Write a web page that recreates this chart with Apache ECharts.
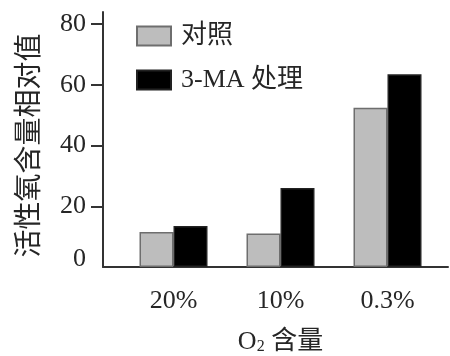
<!DOCTYPE html>
<html>
<head>
<meta charset="utf-8">
<script src="https://cdn.jsdelivr.net/npm/echarts@6/dist/echarts.min.js"></script>
<style>
  html, body { margin: 0; padding: 0; background: #fff; }
  #chart { width: 450px; height: 356px; }
</style>
</head>
<body>
<div id="chart"></div>
<script>
// O2 levels and relative ROS content for the two treatments
const categories = ['20%', '10%', '0.3%'];
const controlValues = [11.5, 11, 52.5];
const maValues = [13.5, 26, 63.5];
const yTickValues = [0, 20, 40, 60, 80];
const seriesNames = ['对照', '3-MA 处理'];

const FONT = 'Times New Roman, Liberation Serif, Noto Sans CJK SC, serif';
const INK = '#262626';

const chart = echarts.init(document.getElementById('chart'));
chart.setOption({
  backgroundColor: '#fff',
  animation: false,
  textStyle: { fontFamily: FONT, color: INK },
  legend: {
    orient: 'vertical',
    left: 136,
    top: 23,
    padding: 0,
    itemWidth: 34,
    itemHeight: 19,
    itemGap: 18,
    icon: 'rect',
    data: seriesNames,
    textStyle: { fontFamily: FONT, fontSize: 26, color: INK, padding: [0, 0, 0, 5] }
  },
  grid: [
    // axis frame grid
    { left: 103, right: 2, top: 12, bottom: 89, outerBoundsMode: 'none' },
    // bar grid
    { left: 120, right: 9, top: 12, bottom: 89, outerBoundsMode: 'none' }
  ],
  xAxis: [
    {
      type: 'category', gridIndex: 0, data: categories,
      axisLine: { lineStyle: { color: '#333', width: 2 } },
      axisTick: { show: false }, axisLabel: { show: false }
    },
    {
      type: 'category', gridIndex: 1, data: categories,
      axisLine: { show: false }, axisTick: { show: false },
      axisLabel: { margin: 21, fontSize: 26, color: INK, fontFamily: FONT },
      name: '{o|O}{s|2}{o| 含量}',
      nameLocation: 'middle',
      nameGap: 62,
      nameTextStyle: {
        rich: {
          o: { fontSize: 26, fontFamily: FONT, color: INK },
          s: { fontSize: 16, fontFamily: FONT, color: INK, verticalAlign: 'bottom', padding: [9, 0, 0, 0] }
        }
      }
    }
  ],
  yAxis: [
    {
      type: 'value', gridIndex: 0, min: 0, max: 84,
      splitLine: { show: false },
      axisLine: { show: true, lineStyle: { color: '#333', width: 2 } },
      axisTick: { show: true, length: 12, customValues: yTickValues.filter(v => v > 0), lineStyle: { color: '#333', width: 2 } },
      axisLabel: {
        customValues: yTickValues,
        margin: 17,
        fontSize: 26,
        color: INK,
        fontFamily: FONT,
        formatter: v => v === 0 ? '{z|0}' : String(v),
        rich: { z: { fontSize: 26, fontFamily: FONT, color: INK, padding: [0, 0, 16, 0] } }
      },
      name: '活性氧含量相对值',
      nameLocation: 'middle',
      nameRotate: 90,
      nameGap: 58,
      nameTextStyle: { fontSize: 28, fontFamily: FONT, color: INK, padding: [0, 12, 0, 0] }
    },
    {
      type: 'value', gridIndex: 1, min: 0, max: 84, show: false
    }
  ],
  series: [
    {
      name: seriesNames[0], type: 'bar', xAxisIndex: 1, yAxisIndex: 1,
      data: controlValues, barWidth: 34, barGap: '0%',
      itemStyle: { color: '#bdbdbd', borderColor: '#6e6e6e', borderWidth: 1.5 }
    },
    {
      name: seriesNames[1], type: 'bar', xAxisIndex: 1, yAxisIndex: 1,
      data: maValues, barWidth: 34, barGap: '0%',
      itemStyle: { color: '#000', borderColor: '#222', borderWidth: 1.5 }
    }
  ]
});
</script>
</body>
</html>
